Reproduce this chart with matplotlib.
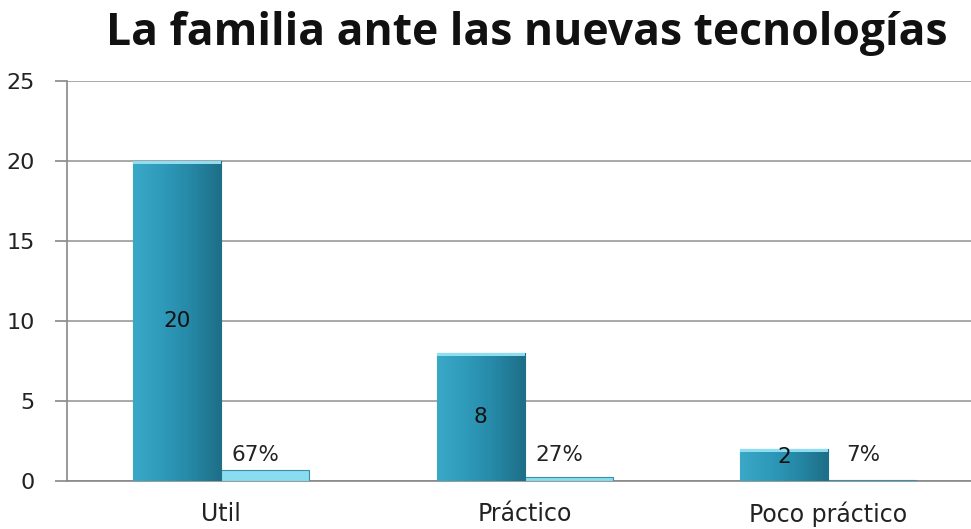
## Bar chart: La familia ante las nuevas tecnologías
import matplotlib
matplotlib.use("Agg")
import matplotlib.pyplot as plt
import numpy as np
from matplotlib.colors import LinearSegmentedColormap

## Data
categories = ["Util", "Práctico", "Poco práctico"]
counts = [20, 8, 2]
shares = [0.67, 0.27, 0.07]
share_labels = ["67%", "27%", "7%"]
y_ticks = [0, 5, 10, 15, 20, 25]

plt.rcParams['font.family'] = ['DejaVu Sans']

## Figure
fig = plt.figure(figsize=(9.71, 5.29), dpi=100)
ax = fig.add_axes([67/971, 48/529, 1 - 67/971, 400/529])

x = np.arange(len(categories))
width = 0.29

bars_main = ax.bar(x - width/2, counts, width, color="#2E98B6", edgecolor="#1F6F88",
                   linewidth=0.8, zorder=3)
bars_share = ax.bar(x + width/2, shares, width, color="#8ADDF0", edgecolor="#3A8FA8",
                    linewidth=0.8, zorder=3)

# Gradient fill, clipped to each main bar (lighter on the left, darker on the right)
cmap = LinearSegmentedColormap.from_list("teal", ["#3AA8C6", "#2F9ABA", "#2587A5", "#1E6E87"])
grad = np.linspace(0, 1, 256).reshape(1, -1)
for b in bars_main:
    x0, y0 = b.get_x(), b.get_y()
    w, h = b.get_width(), b.get_height()
    im = ax.imshow(grad, cmap=cmap, aspect="auto", extent=(x0, x0 + w, y0, y0 + h),
                   zorder=3.5, interpolation="bicubic")
    im.set_clip_path(b)
    # light cap on the top of the bar
    ax.add_patch(plt.Rectangle((x0, y0 + h - 0.2), w, 0.2, color="#8EDDF0",
                               zorder=3.6, lw=0))

## Labels on the bars
for b, v in zip(bars_main, counts):
    ax.text(b.get_x() + b.get_width()/2, max(v/2, 1.5), str(v), ha="center", va="center",
            fontsize=15.5, color="#111111", zorder=5)
for b, s in zip(bars_share, share_labels):
    ax.text(b.get_x() + b.get_width()/2 - 0.03, 1.6, s, ha="center", va="center",
            fontsize=15.5, color="#222222", zorder=5)

## Axes styling
ax.set_xlim(-0.507, 2.47)
ax.set_ylim(0, 25)
ax.set_yticks(y_ticks)
ax.set_xticks(x)
ax.set_xticklabels(categories)
ax.tick_params(axis="y", length=9, width=1.2, color="#888888", labelsize=16,
               labelcolor="#222222", pad=14)
ax.tick_params(axis="x", length=0, labelsize=17, labelcolor="#222222", pad=15)
ax.yaxis.grid(True, color="#999999", linewidth=1.2, zorder=0)
ax.set_axisbelow(True)
for side in ["top", "right"]:
    ax.spines[side].set_visible(False)
ax.spines["left"].set_color("#888888")
ax.spines["left"].set_linewidth(1.2)
ax.spines["bottom"].set_color("#888888")
ax.spines["bottom"].set_linewidth(1.2)

fig.text(527/971, 1 - 33/529, "La familia ante las nuevas tecnologías", ha="center",
         va="center", fontsize=32, fontweight="bold", color="#111111",
         family=["Open Sans", "DejaVu Sans"])

fig.savefig("out.png", dpi=100)
